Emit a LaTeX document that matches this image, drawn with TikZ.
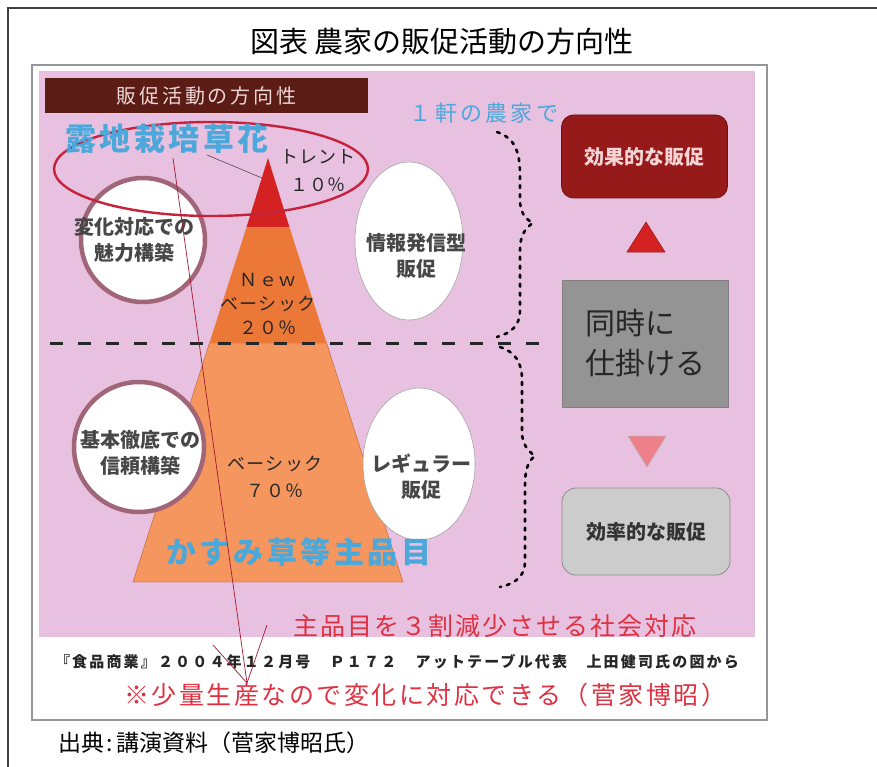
\documentclass[tikz,border=0pt]{standalone}
\usepackage{fontspec}
\setmainfont{Noto Sans CJK JP}
\usetikzlibrary{positioning, shapes.geometric}

\definecolor{pinkbg}{RGB}{232,192,224}
\definecolor{hdrbrown}{RGB}{92,28,22}
\definecolor{hdrtext}{RGB}{236,214,214}
\definecolor{skyblue}{RGB}{76,168,218}
\definecolor{trendred}{RGB}{212,34,34}
\definecolor{neworange}{RGB}{236,120,56}
\definecolor{basicorange}{RGB}{244,150,94}
\definecolor{ringmauve}{RGB}{160,102,120}
\definecolor{boxred}{RGB}{150,26,26}
\definecolor{boxtext}{RGB}{244,212,212}
\definecolor{downpink}{RGB}{238,128,138}
\definecolor{notered}{RGB}{222,50,66}
\definecolor{ovalred}{RGB}{198,34,60}
\definecolor{framegray}{RGB}{150,150,150}

\newcommand{\fs}[2]{\fontsize{#1}{#2}\selectfont}

\begin{document}
\begin{tikzpicture}[
    x=1pt, y=-1pt,
    every node/.style={inner sep=0pt, outer sep=0pt},
    ring/.style={circle, draw=ringmauve, line width=4.5pt, fill=white, minimum size=#1},
    egg/.style={ellipse, draw=black!35, line width=0.6pt, fill=white},
    txt/.style={align=center, text=black!72, font=\fs{20}{26}\bfseries},
    pyr/.style={align=center, text=black!85, font=\fs{18}{24}\addfontfeatures{LetterSpace=8}},
    panel/.style={rounded corners=12pt, minimum width=166pt, minimum height=83pt, font=\fs{20}{24}\bfseries},
    bigblue/.style={text=skyblue, font=\fs{31}{31}\bfseries\addfontfeatures{LetterSpace=11}},
    brace/.style={line width=2.6pt, line cap=round, dash pattern=on 3pt off 6pt},
    pointer/.style={ovalred!80!black, line width=0.7pt}
  ]

  \useasboundingbox (0,0) rectangle (877,767);
  \fill[white] (0,0) rectangle (877,767);

  % outer frame and title
  \draw[black!75, line width=2pt] (8,767) -- (8,8) -- (877,8);
  \node[font=\fs{29}{29}] (title) at (442,42) {図表 農家の販促活動の方向性};

  % picture frame
  \draw[framegray, line width=1.2pt, fill=white] (32,65) rectangle (767,720);
  \fill[pinkbg] (39,71) rectangle (755,637);

  % header
  \node[fill=hdrbrown, minimum width=323pt, minimum height=35pt,
        text=hdrtext, font=\fs{20}{20}\addfontfeatures{LetterSpace=14}]
        (hdr) at (206.5,95.5) {販促活動の方向性};

  % pyramid
  \fill[basicorange, draw=neworange!80!black, line width=0.4pt]
    (209.4,343) -- (326.6,343) -- (403,582) -- (133,582) -- cycle;
  \fill[neworange] (246.6,227) -- (289.4,227) -- (326.6,343) -- (209.4,343) -- cycle;
  \fill[trendred] (268,158) -- (289.4,227) -- (246.6,227) -- cycle;

  % divider
  \draw[black!85, line width=3pt, dash pattern=on 13pt off 15pt] (50,343) -- (540,343);

  % circles and eggs
  \node[ring=124pt] (c1) at (143,240) {};
  \node[ring=130pt] (c2) at (139,447) {};
  \node[egg, minimum width=108pt, minimum height=158pt] (o1) at (409,241) {};
  \node[egg, minimum width=112pt, minimum height=152pt] (o2) at (419,464) {};

  % red oval round the trend
  \draw[ovalred, line width=2.4pt] (211,169) ellipse [x radius=157, y radius=47];

  % braces
  \draw[brace] (497,132) .. controls (514,138) and (520,150) .. (520,175)
    -- (520,200) .. controls (520,212) and (525,219) .. (533,223)
    .. controls (525,228) and (520,236) .. (520,250) -- (520,310)
    .. controls (520,326) and (511,333) .. (497,337);
  \draw[brace] (500,347) .. controls (515,352) and (522,362) .. (522,380)
    -- (522,432) .. controls (522,444) and (528,451) .. (535,456)
    .. controls (528,461) and (525,470) .. (525,485) -- (525,562)
    .. controls (525,576) and (515,584) .. (500,587);

  % right column
  \node[panel, fill=boxred, draw=boxred!70!black, line width=0.8pt,
        text=boxtext] (b1) at (644.5,156.5) {効果的な販促};
  \fill[trendred, draw=trendred!70!black, line width=0.5pt] (627,252) -- (665,252) -- (646,222) -- cycle;
  \node[fill=black!42, draw=black!50, line width=0.6pt, minimum width=166pt, minimum height=127pt,
        align=left, text=black!85, font=\fs{30}{40}] (b2) at (645,343.5) {同時に\\仕掛ける};
  \fill[downpink, draw=black!30, line width=0.5pt]
    (628,436) -- (666,436) -- (647,467) -- cycle;
  \node[panel, fill=black!20, draw=black!45, line width=0.8pt, minimum width=168pt, minimum height=87pt,
        rounded corners=14pt, text=black!80] (b3) at (646,531.5) {効率的な販促};

  % texts
  \node[bigblue] (roji) at (167,139) {露地栽培草花};
  \node[text=skyblue, font=\fs{22}{22}\addfontfeatures{LetterSpace=15}] (ikken) at (484,113) {１軒の農家で};
  \node[pyr, font=\fs{18}{28}\addfontfeatures{LetterSpace=4}] (trend) at (318,171) {トレント\\１０％};
  \node[pyr] (newb) at (268,304) {Ｎｅｗ\\ベーシック\\２０％};
  \node[pyr, font=\fs{18}{27}\addfontfeatures{LetterSpace=8}] (basic) at (275,477) {ベーシック\\７０％};
  \node[txt] (t1) at (134,240) {変化対応での\\魅力構築};
  \node[txt] (t2) at (140,453) {基本徹底での\\信頼構築};
  \node[txt] (t3) at (416,256) {情報発信型\\販促};
  \node[txt] (t4) at (421,477) {レギュラー\\販促};
  \node[bigblue, font=\fs{30}{30}\bfseries\addfontfeatures{LetterSpace=12}] (kasumi) at (299,552) {かすみ草等主品目};

  % bottom notes
  \node[text=notered, font=\fs{25}{25}\addfontfeatures{LetterSpace=8}] (social) at (495,626) {主品目を３割減少させる社会対応};
  \node[anchor=west, text=black!85, font=\fs{15}{15}\bfseries\addfontfeatures{LetterSpace=14.5}]
    (src) at (55,662) {『食品商業』２００４年１２月号　Ｐ１７２　アットテーブル代表　上田健司氏の図から};
  \node[text=notered, font=\fs{25}{25}\addfontfeatures{LetterSpace=10}] (memo) at (425,695) {※少量生産なので変化に対応できる（菅家博昭）};
  \node[anchor=west, font=\fs{23}{23}] (cite) at (58,743) {出典\hspace{3pt}:\hspace{3pt}講演資料（菅家博昭氏）};

  % hand drawn pointers
  \coordinate (rlow) at (173,158);
  \coordinate (rtip) at (247,683);
  \coordinate (barb1) at (213,645);
  \coordinate (barb2) at (267,625);
  \coordinate (apex) at (262,178);
  \draw[pointer] (rlow) -- (rtip);
  \draw[pointer] (barb1) -- (rtip);
  \draw[pointer] (barb2) -- (rtip);
  \draw[black!70, line width=0.6pt] (207,155) -- (apex);

\end{tikzpicture}
\end{document}
